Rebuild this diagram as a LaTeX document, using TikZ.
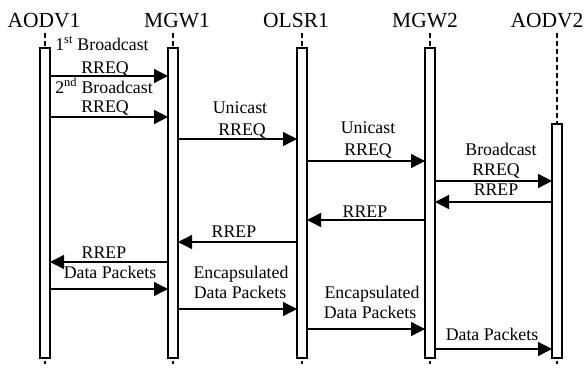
\documentclass[tikz,border=0pt]{standalone}
\usepackage{fontspec}
\setmainfont{Liberation Serif}
\usetikzlibrary{arrows.meta}
\tikzset{
  bar/.style={draw, line width=1.3pt, fill=white, minimum width=10pt, inner sep=0pt, outer sep=0pt},
  life/.style={line width=1.3pt, dash pattern=on 5pt off 3pt},
  msg/.style={line width=1.3pt, -{Triangle[length=14pt,width=14pt]}},
  hdr/.style={font=\fontsize{21.5}{24}\selectfont, inner sep=0pt, anchor=base},
  lbl/.style={font=\fontsize{17.8}{20}\selectfont, inner sep=0pt, anchor=base},
}
\begin{document}
\begin{tikzpicture}[x=1pt,y=-1pt]
\useasboundingbox (0,0) rectangle (588,369);
% headers
\node[hdr] (h1) at (44,28) {AODV1};
\node[hdr] (h2) at (177,28) {MGW1};
\node[hdr] (h3) at (296,28) {OLSR1};
\node[hdr] (h4) at (425,28) {MGW2};
\node[hdr] (h5) at (547,28) {AODV2};
% lifeline anchors
\coordinate (t1) at (45,33);
\coordinate (t2) at (173,33);
\coordinate (t3) at (302,33);
\coordinate (t4) at (430,33);
\coordinate (t5) at (557,33);
\coordinate (e1) at (45,364);
\coordinate (e2) at (173,364);
\coordinate (e3) at (302,364);
\coordinate (e4) at (430,364);
\coordinate (e5) at (557,364);
\draw[life] (t1) -- (e1);
\draw[life] (t2) -- (e2);
\draw[life] (t3) -- (e3);
\draw[life] (t4) -- (e4);
\draw[life] (t5) -- (e5);
% activation bars
\node[bar, minimum height=310pt] (b1) at (45,203) {};
\node[bar, minimum height=310pt] (b2) at (173,203) {};
\node[bar, minimum height=310pt] (b3) at (302,203) {};
\node[bar, minimum height=310pt] (b4) at (430,203) {};
\node[bar, minimum height=234pt] (b5) at (557,241) {};
% messages
\draw[msg] (b1.east |- 0,76) -- (b2.west |- 0,76);
\node[lbl] (l1a) at (102,50) {1\textsuperscript{st} Broadcast};
\node[lbl] (l1b) at (105,74) {RREQ};
\draw[msg] (b1.east |- 0,117) -- (b2.west |- 0,117);
\node[lbl] (l2a) at (104,93) {2\textsuperscript{nd} Broadcast};
\node[lbl] (l2b) at (105,112) {RREQ};
\draw[msg] (b2.east |- 0,139) -- (b3.west |- 0,139);
\node[lbl] (l3a) at (240,113) {Unicast};
\node[lbl] (l3b) at (242,135) {RREQ};
\draw[msg] (b3.east |- 0,161) -- (b4.west |- 0,161);
\node[lbl] (l4a) at (368,133.5) {Unicast};
\node[lbl] (l4b) at (368,155) {RREQ};
\draw[msg] (b4.east |- 0,181) -- (b5.west |- 0,181);
\node[lbl] (l5a) at (501,155) {Broadcast};
\node[lbl] (l5b) at (496,175) {RREQ};
\draw[msg] (b5.west |- 0,202) -- (b4.east |- 0,202);
\node[lbl] (l6) at (496,195) {RREP};
\draw[msg] (b4.west |- 0,220) -- (b3.east |- 0,220);
\node[lbl] (l7) at (365,217) {RREP};
\draw[msg] (b3.west |- 0,242) -- (b2.east |- 0,242);
\node[lbl] (l8) at (234,237) {RREP};
\draw[msg] (b2.west |- 0,262) -- (b1.east |- 0,262);
\node[lbl] (l9) at (104,258) {RREP};
\draw[msg] (b1.east |- 0,289) -- (b2.west |- 0,289);
\node[lbl] (l10) at (110,278) {Data Packets};
\draw[msg] (b2.east |- 0,309) -- (b3.west |- 0,309);
\node[lbl] (l11a) at (241,278) {Encapsulated};
\node[lbl] (l11b) at (240,298) {Data Packets};
\draw[msg] (b3.east |- 0,329) -- (b4.west |- 0,329);
\node[lbl] (l12a) at (372,298) {Encapsulated};
\node[lbl] (l12b) at (370,318) {Data Packets};
\draw[msg] (b4.east |- 0,349) -- (b5.west |- 0,349);
\node[lbl] (l13) at (492,340) {Data Packets};
\end{tikzpicture}
\end{document}
